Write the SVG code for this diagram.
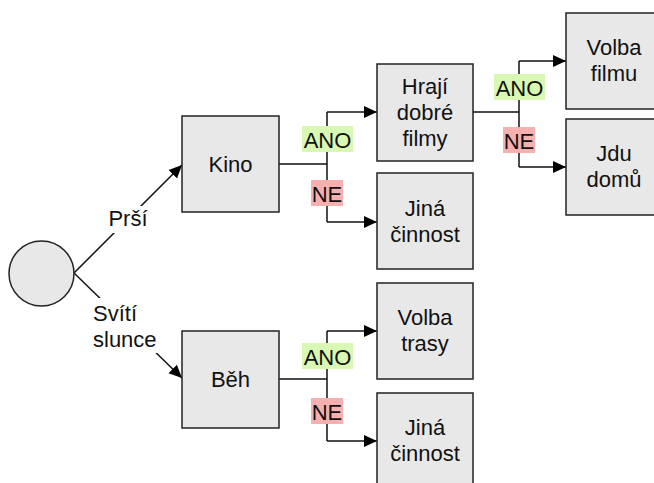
<svg xmlns="http://www.w3.org/2000/svg" width="654" height="483" viewBox="0 0 654 483">
<defs>
<marker id="arr" markerUnits="userSpaceOnUse" markerWidth="14" markerHeight="14" viewBox="0 0 14 14" refX="13" refY="7" orient="auto">
<path d="M0,1 L13,7 L0,13 Z" fill="#000"/>
</marker>
</defs>
<style>
.box{fill:#e8e8e8;stroke:#222;stroke-width:1.5}
.t{font-family:"Liberation Sans",Arial,sans-serif;font-size:22px;fill:#111;text-anchor:middle}
.c{fill:none;stroke:#111;stroke-width:1.5}
.ca{fill:none;stroke:#111;stroke-width:1.5;marker-end:url(#arr)}
.yes{fill:#d8f8b4}
.no{fill:#f6b0b0}
</style>
<rect width="654" height="483" fill="#fff"/>
<g id="connectors">
<line class="ca" x1="74" y1="273" x2="182" y2="165"/>
<line class="ca" x1="74" y1="273" x2="182" y2="378"/>
<rect x="105" y="206" width="45" height="27" fill="#fff"/>
<rect x="90" y="298" width="69" height="55" fill="#fff"/>
<path class="c" d="M279,164 H327 M327,112 V222"/>
<path class="ca" d="M327,112 H377"/>
<path class="ca" d="M327,222 H377"/>
<path class="c" d="M473,112 H519 M519,61 V167"/>
<path class="ca" d="M519,61 H566"/>
<path class="ca" d="M519,167 H566"/>
<path class="c" d="M279,379 H327 M327,331 V441"/>
<path class="ca" d="M327,331 H377"/>
<path class="ca" d="M327,441 H377"/>
<text class="t" x="128" y="226">Prší</text>
<text class="t" x="93" y="321" style="text-anchor:start">Svítí</text>
<text class="t" x="93" y="347" style="text-anchor:start">slunce</text>
<rect class="yes" x="302" y="126" width="51" height="26"/>
<text class="t" x="327.5" y="147.5">ANO</text>
<rect class="no" x="311" y="180" width="32" height="26"/>
<text class="t" x="327" y="201.5">NE</text>
<rect class="yes" x="494" y="74" width="51" height="26"/>
<text class="t" x="519.5" y="95.5">ANO</text>
<rect class="no" x="503" y="127" width="32" height="26"/>
<text class="t" x="519" y="148.5">NE</text>
<rect class="yes" x="302" y="343" width="51" height="26"/>
<text class="t" x="327.5" y="364.5">ANO</text>
<rect class="no" x="311" y="398" width="32" height="26"/>
<text class="t" x="327" y="419.5">NE</text>
</g>
<g id="start">
<circle cx="41.5" cy="273.5" r="32.5" fill="#e8e8e8" stroke="#222" stroke-width="1.5"/>
</g>
<g id="kino">
<rect class="box" x="182" y="116" width="97" height="96"/>
<text class="t" x="230.5" y="171.5">Kino</text>
</g>
<g id="beh">
<rect class="box" x="182" y="331" width="97" height="97"/>
<text class="t" x="230.5" y="387">Běh</text>
</g>
<g id="hraji">
<rect class="box" x="377" y="64" width="96" height="97"/>
<text class="t" x="425" y="94">Hrají</text>
<text class="t" x="425" y="120">dobré</text>
<text class="t" x="425" y="146">filmy</text>
</g>
<g id="jina1">
<rect class="box" x="377" y="173" width="96" height="96"/>
<text class="t" x="425" y="215.5">Jiná</text>
<text class="t" x="425" y="241.5">činnost</text>
</g>
<g id="volbafilmu">
<rect class="box" x="566" y="13" width="96" height="96"/>
<text class="t" x="614" y="55">Volba</text>
<text class="t" x="614" y="81">filmu</text>
</g>
<g id="jdudomu">
<rect class="box" x="566" y="119" width="96" height="96"/>
<text class="t" x="614" y="161">Jdu</text>
<text class="t" x="614" y="187">domů</text>
</g>
<g id="volbatrasy">
<rect class="box" x="377" y="283" width="96" height="96"/>
<text class="t" x="425" y="325">Volba</text>
<text class="t" x="425" y="351">trasy</text>
</g>
<g id="jina2">
<rect class="box" x="377" y="393" width="96" height="96"/>
<text class="t" x="425" y="435">Jiná</text>
<text class="t" x="425" y="461">činnost</text>
</g>
</svg>
